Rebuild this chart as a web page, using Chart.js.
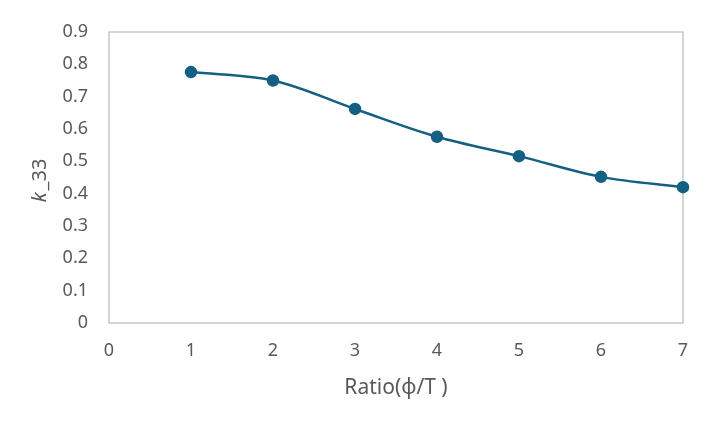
<!DOCTYPE html>
<html>
<head>
<meta charset="utf-8">
<script src="https://cdn.jsdelivr.net/npm/chart.js@4"></script>
<style>
  html, body { margin: 0; padding: 0; background: #fff; }
  #wrap { width: 709px; height: 425px; }
</style>
</head>
<body>
<div id="wrap"><canvas id="chart" width="709" height="425"></canvas></div>
<script>
const ratios = [1, 2, 3, 4, 5, 6, 7];
const k33 = [0.776, 0.750, 0.662, 0.576, 0.516, 0.452, 0.420];
const xTitle = "Ratio(\u03D5/T )";
const yTitleItalic = "k";
const yTitleRest = "_33";

const textColor = "#595959";
const frameColor = "#bfbfbf";
const lineColor = "#156082";
const fontFamily = "'Noto Sans', 'Liberation Sans', sans-serif";

// y title: italic "k" followed by upright "_33", rotated
const yTitlePlugin = {
  id: "yTitle",
  afterDraw(chart) {
    const { ctx, chartArea } = chart;
    const cy = (chartArea.top + chartArea.bottom) / 2 + 3;
    ctx.save();
    ctx.translate(40, cy);
    ctx.rotate(-Math.PI / 2);
    ctx.fillStyle = textColor;
    ctx.textBaseline = "middle";
    ctx.font = "italic 20px " + fontFamily;
    const w1 = ctx.measureText(yTitleItalic).width;
    ctx.font = "20px " + fontFamily;
    const w2 = ctx.measureText(yTitleRest).width;
    let x = -(w1 + w2 + 2) / 2;
    ctx.font = "italic 20px " + fontFamily;
    ctx.textAlign = "left";
    ctx.fillText(yTitleItalic, x, 0);
    ctx.font = "20px " + fontFamily;
    ctx.fillText(yTitleRest, x + w1 + 2, 0);
    ctx.restore();
  }
};

// full box around the plot area
const framePlugin = {
  id: "frame",
  beforeDatasetsDraw(chart) {
    const { ctx, chartArea } = chart;
    ctx.save();
    ctx.strokeStyle = frameColor;
    ctx.lineWidth = 1.3;
    ctx.strokeRect(chartArea.left, chartArea.top,
      chartArea.right - chartArea.left, chartArea.bottom - chartArea.top);
    ctx.restore();
  }
};

new Chart(document.getElementById("chart"), {
  type: "line",
  data: {
    datasets: [{
      data: ratios.map((x, i) => ({ x: x, y: k33[i] })),
      borderColor: lineColor,
      backgroundColor: lineColor,
      borderWidth: 2.5,
      pointRadius: 5,
      pointBackgroundColor: lineColor,
      pointBorderColor: lineColor,
      tension: 0.35,
      fill: false,
      clip: false
    }]
  },
  options: {
    responsive: false,
    animation: false,
    devicePixelRatio: 1,
    layout: { padding: { left: 0, right: 26, top: 32, bottom: 22 } },
    plugins: {
      legend: { display: false },
      tooltip: { enabled: false }
    },
    scales: {
      x: {
        type: "linear",
        min: 0,
        max: 7,
        grid: { display: false, drawTicks: false },
        border: { display: false },
        ticks: {
          stepSize: 1,
          color: textColor,
          font: { family: fontFamily, size: 18 },
          padding: 17
        },
        title: {
          display: true,
          text: xTitle,
          color: textColor,
          font: { family: fontFamily, size: 21 },
          padding: { top: 4, bottom: 2 }
        },
        afterFit(scale) { scale.height = 80; }
      },
      y: {
        min: 0,
        max: 0.9,
        grid: { display: false, drawTicks: false },
        border: { display: false },
        ticks: {
          stepSize: 0.1,
          color: textColor,
          font: { family: fontFamily, size: 18 },
          padding: 21,
          callback: (v) => Math.round(v * 10) / 10
        },
        afterFit(scale) { scale.width = 109; }
      }
    }
  },
  plugins: [framePlugin, yTitlePlugin]
});
</script>
</body>
</html>
